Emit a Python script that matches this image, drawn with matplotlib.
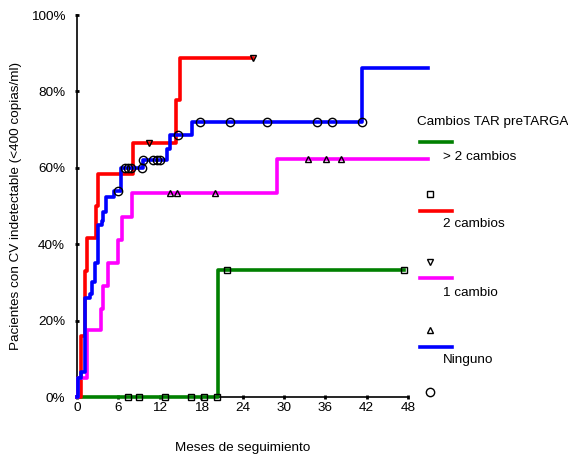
import matplotlib
matplotlib.use('Agg')
from matplotlib import pyplot as plt
from matplotlib.lines import Line2D
import numpy as np

plt.rcParams['font.family'] = ['Liberation Sans', 'DejaVu Sans']

# step curves (months, % undetectable)
red_t = [0, 0.6, 1.2, 1.4, 2.7, 3.1, 8.1, 14.4, 14.9, 25.5]
red_v = [0, 16, 33, 41.6, 50, 58.4, 66.5, 77.7, 88.8, 88.8]
red_ct = [10.4, 25.5]
red_cv = [66.5, 88.8]

blue_t = [0, 0.1, 0.6, 1.2, 1.9, 2.2, 2.6, 3.0, 3.6, 3.8, 4.2, 5.3, 6.4, 9.5, 13.0, 13.5, 16.7, 41.4, 50.9]
blue_v = [0, 5, 6.5, 26, 27, 30, 35, 45, 46, 48.4, 52.4, 54, 60, 62, 65, 68.6, 72, 86, 86]
blue_ct = [6.0, 7.0, 7.4, 7.9, 9.4, 9.6, 11.0, 11.6, 12.0, 14.6, 17.8, 22.2, 27.5, 34.8, 37.0, 41.4]
blue_cv = [54, 60, 60, 60, 60, 62, 62, 62, 62, 68.6, 72, 72, 72, 72, 72, 72]

mag_t = [0, 0.2, 1.4, 3.5, 3.8, 4.5, 5.9, 6.5, 8.0, 29.0, 50.9]
mag_v = [0, 5, 17.5, 23, 29, 35, 41, 47, 53.4, 62.3, 62.3]
mag_ct = [13.5, 14.5, 20.0, 33.5, 36.1, 38.3]
mag_cv = [53.4, 53.4, 53.4, 62.3, 62.3, 62.3]

green_t = [0, 20.5, 47.4]
green_v = [0, 33.3, 33.3]
green_ct = [7.4, 9.0, 12.8, 16.6, 18.4, 20.3, 21.7, 47.4]
green_cv = [0, 0, 0, 0, 0, 0, 33.3, 33.3]

groups = ['> 2 cambios', '2 cambios', '1 cambio', 'Ninguno']
colors = ['#008000', '#ff0000', '#ff00ff', '#0000ff']
markers = ['s', 'v', '^', 'o']
sizes = [4.2, 5, 5, 6]

W, H = 568, 459
fig = plt.figure(figsize=(W / 100, H / 100), dpi=100)
ax = fig.add_axes([77 / W, 1 - 397 / H, 331 / W, 382 / H])

curves = [(green_t, green_v), (red_t, red_v), (mag_t, mag_v), (blue_t, blue_v)]
cens = [(green_ct, green_cv), (red_ct, red_cv), (mag_ct, mag_cv), (blue_ct, blue_cv)]

for (t, v), c in zip(curves, colors):
    ax.step(t, v, where='post', color=c, lw=2.6, clip_on=False, zorder=3)
for (t, v), m, s in zip(cens, markers, sizes):
    ax.plot(t, v, ls='none', marker=m, ms=s, mfc='none', mec='black',
            mew=1.0, clip_on=False, zorder=4)

ax.set_xlim(0, 48)
ax.set_ylim(0, 100)
ax.set_xticks(np.arange(0, 49, 6))
ax.set_yticks(np.arange(0, 101, 20))
ax.set_yticklabels([f'{v}%' for v in range(0, 101, 20)])
for s in ['top', 'right']:
    ax.spines[s].set_visible(False)
ax.spines['left'].set_linewidth(1.2)
ax.spines['bottom'].set_linewidth(1.2)
ax.tick_params(direction='inout', length=3, width=2, labelsize=9.7)
ax.tick_params(axis='y', pad=7)
ax.tick_params(axis='x', pad=2)
ax.set_xlabel('Meses de seguimiento', fontsize=9.7, labelpad=20)
ax.set_ylabel('Pacientes con CV indetectable (<400 copias/ml)', fontsize=9.7, labelpad=6)


# hand-made legend, in pixel positions
def fx(px):
    return px / W


def fy(py):
    return 1 - py / H


fig.text(fx(417), fy(122), 'Cambios TAR preTARGA', fontsize=9.7, va='center')
line_y = [142, 211, 278, 347]
lab_y = [157, 224, 293, 360]
mark_y = [194, 262, 330, 392]
for g, c, m, s, ly, ty, my in zip(groups, colors, markers, sizes, line_y, lab_y, mark_y):
    fig.add_artist(Line2D([fx(420), fx(452)], [fy(ly), fy(ly)], color=c, lw=2.6,
                          transform=fig.transFigure))
    fig.text(fx(443), fy(ty), g, fontsize=9.7, va='center')
    fig.add_artist(Line2D([fx(430)], [fy(my)], ls='none', marker=m, ms=s,
                          mfc='none', mec='black', mew=1.0,
                          transform=fig.transFigure))

fig.savefig('out.png', dpi=100)
